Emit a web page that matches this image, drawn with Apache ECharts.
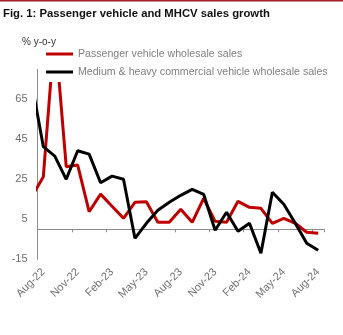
<!DOCTYPE html>
<html>
<head>
<meta charset="utf-8">
<script src="https://cdn.jsdelivr.net/npm/echarts@6/dist/echarts.min.js"></script>
<style>
html,body{margin:0;padding:0;background:#fff;}
#chart{width:343px;height:335px;}
</style>
</head>
<body>
<div id="chart"></div>
<script>
// Monthly categories (Jul-22 is only partly visible at the left edge)
var months = ['Jul-22','Aug-22','Sep-22','Oct-22','Nov-22','Dec-22','Jan-23','Feb-23','Mar-23','Apr-23','May-23','Jun-23','Jul-23','Aug-23','Sep-23','Oct-23','Nov-23','Dec-23','Jan-24','Feb-24','Mar-24','Apr-24','May-24','Jun-24','Jul-24','Aug-24'];
// % y-o-y, passenger vehicle wholesale sales
var pvSales = [16.3, 26.3, 100, 31.3, 32.1, 8.8, 17.6, 11.5, 5.5, 13.5, 13.8, 3.5, 3.5, 10, 3.5, 15.5, 4, 3.5, 14, 11, 10.5, 3, 5.5, 3, -1.5, -2];
// % y-o-y, medium & heavy commercial vehicle wholesale sales
var mhcvSales = [73, 41.3, 36.6, 25, 39.3, 37.6, 23.3, 26.6, 25, -4.5, 3, 9.5, 13.5, 17, 20, 17.5, -0.5, 8.5, -1, 3, -12, 18.5, 12.5, 3, -7, -10.5];
// Labelled months on the x axis
var xTickLabels = ['Aug-22','Nov-22','Feb-23','May-23','Aug-23','Nov-23','Feb-24','May-24','Aug-24'];
var yTicks = [-15, 5, 25, 45, 65];

var seriesNames = ['Passenger vehicle wholesale sales', 'Medium & heavy commercial vehicle wholesale sales'];

function toPoints(arr) {
  return arr.map(function (v, i) { return [i - 1, v]; });
}
var labelPositions = xTickLabels.map(function (l) { return months.indexOf(l) - 1; });

var FONT = '"Liberation Sans", Arial, sans-serif';
var chart = echarts.init(document.getElementById('chart'), null, {renderer: 'canvas'});
chart.setOption({
  animation: false,
  backgroundColor: '#fff',
  textStyle: {fontFamily: FONT},
  graphic: [
    {type: 'rect', left: 0, top: 0, shape: {width: 343, height: 1.5}, style: {fill: '#a31d24'}},
    {type: 'text', left: 3, top: 8, style: {text: 'Fig. 1: Passenger vehicle and MHCV sales growth', font: 'bold 11.3px ' + FONT, fill: '#111'}},
    {type: 'text', left: 22, top: 37, z: 20, style: {text: '% y-o-y', font: '10px ' + FONT, fill: '#333'}}
  ],
  grid: {left: 37.6, right: 19.1, top: 69.3, bottom: 75.7, containLabel: false},
  legend: {
    orient: 'vertical', left: 44, top: 46, padding: [1, 4, 3, 2],
    backgroundColor: '#fff', itemGap: 4, itemWidth: 27, itemHeight: 3, icon: 'rect',
    textStyle: {color: '#808080', fontSize: 10.6, lineHeight: 14, fontFamily: FONT},
    data: seriesNames, z: 10
  },
  xAxis: [
    {
      type: 'value', min: -0.5, max: 24.5, interval: 3, position: 'bottom',
      axisLine: {show: true, onZero: true, lineStyle: {color: '#8c8c8c', width: 1}},
      axisTick: {show: true, length: 3, lineStyle: {color: '#8c8c8c'}},
      axisLabel: {show: false}, splitLine: {show: false}
    },
    {
      type: 'value', min: -0.5, max: 24.5, position: 'bottom',
      axisLine: {show: false, onZero: false}, axisTick: {show: false}, splitLine: {show: false},
      axisLabel: {
        show: true, rotate: 45, margin: 11, color: '#707070', fontSize: 11, fontFamily: FONT,
        customValues: labelPositions,
        formatter: function (v) { return months[Math.round(v) + 1]; }
      }
    }
  ],
  yAxis: {
    type: 'value', min: -15, max: 80, interval: 20,
    axisLine: {show: true, onZero: false, lineStyle: {color: '#8c8c8c', width: 1}},
    axisTick: {show: false}, splitLine: {show: false},
    axisLabel: {color: '#707070', fontSize: 11, margin: 10, fontFamily: FONT,
      customValues: yTicks}
  },
  series: [
    {name: seriesNames[0], type: 'line', xAxisIndex: 0, data: toPoints(pvSales), symbol: 'none',
      lineStyle: {color: '#c00000', width: 3}, itemStyle: {color: '#c00000'}, clip: true, z: 2},
    {name: seriesNames[1], type: 'line', xAxisIndex: 0, data: toPoints(mhcvSales), symbol: 'none',
      lineStyle: {color: '#000', width: 3}, itemStyle: {color: '#000'}, clip: true, z: 3}
  ]
});
</script>
</body>
</html>
